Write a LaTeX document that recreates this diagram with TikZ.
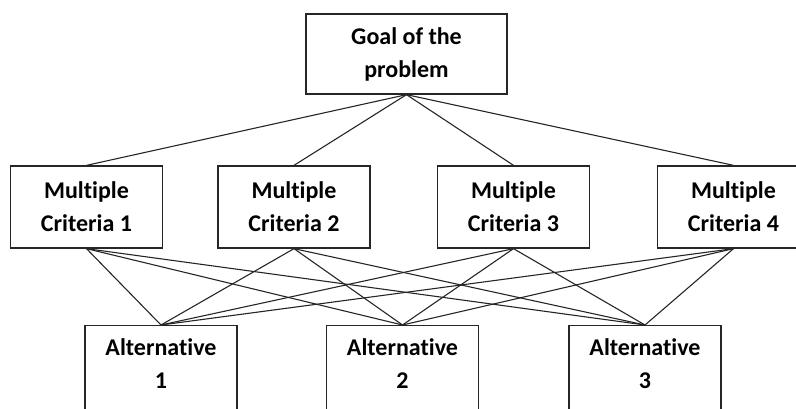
\documentclass[tikz,border=0pt]{standalone}
\usepackage{fontspec}
\setmainfont{Carlito}[Ligatures=CommonOff]

\begin{document}
\begin{tikzpicture}[x=1pt, y=-1pt, line width=1.1pt, color=black!85,
  box/.style={draw, line width=1.3pt, align=center, inner sep=0pt, text=black,
    minimum width=152pt, minimum height=82pt, font=\bfseries\fontsize{24}{33}\selectfont},
  goal box/.style={box, minimum width=201pt, minimum height=80pt},
  alt box/.style={box, anchor=north, minimum height=0pt, inner ysep=13pt, text depth=60pt}]
\clip (0,0) rectangle (796,409);
\node[goal box] (g)  at (406.5,54) {Goal of the\\problem};
\node[box]      (c1) at (86.5,207) {Multiple\\Criteria 1};
\node[box]      (c2) at (294,207)  {Multiple\\Criteria 2};
\node[box]      (c3) at (513.5,207) {Multiple\\Criteria 3};
\node[box]      (c4) at (733.5,207) {Multiple\\Criteria 4};
\node[alt box]  (a1) at (161,325)  {Alternative\\1};
\node[alt box]  (a2) at (402.5,325) {Alternative\\2};
\node[alt box]  (a3) at (645,325)  {Alternative\\3};
\path
(g.south) edge (c1.north)
          edge (c2.north)
          edge (c3.north)
          edge (c4.north)
(c1.south) edge (a1.north)
           edge (a2.north)
           edge (a3.north)
(c2.south) edge (a1.north)
           edge (a2.north)
           edge (a3.north)
(c3.south) edge (a1.north)
           edge (a2.north)
           edge (a3.north)
(c4.south) edge (a1.north)
           edge (a2.north)
           edge (a3.north)
;
\end{tikzpicture}
\end{document}
